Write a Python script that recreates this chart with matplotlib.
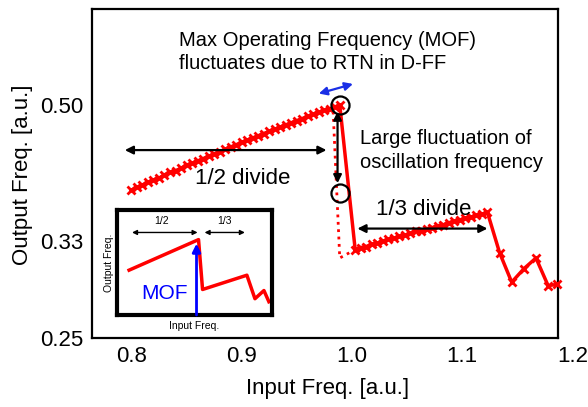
import matplotlib
matplotlib.use("Agg")
import matplotlib.pyplot as plt
import numpy as np

plt.rcParams['font.family'] = ['Liberation Sans', 'DejaVu Sans']

# 1/2 divide branch
in_half = [0.800, 0.805, 0.810, 0.815, 0.820, 0.825, 0.830, 0.835, 0.840, 0.845,
           0.850, 0.855, 0.860, 0.865, 0.870, 0.875, 0.880, 0.885, 0.890, 0.895,
           0.900, 0.905, 0.910, 0.915, 0.920, 0.925, 0.930, 0.935, 0.940, 0.945,
           0.950, 0.955, 0.960, 0.965, 0.970, 0.975, 0.980, 0.985, 0.989]
out_half = [0.388, 0.391, 0.394, 0.397, 0.400, 0.402, 0.406, 0.409, 0.411, 0.414,
            0.418, 0.420, 0.423, 0.426, 0.429, 0.432, 0.435, 0.438, 0.441, 0.444,
            0.447, 0.450, 0.453, 0.456, 0.459, 0.462, 0.465, 0.468, 0.471, 0.474,
            0.477, 0.480, 0.483, 0.486, 0.489, 0.492, 0.494, 0.497, 0.500]

# 1/3 divide branch
in_third = [1.003, 1.008, 1.013, 1.018, 1.023, 1.028, 1.033, 1.038, 1.043, 1.048,
            1.053, 1.058, 1.063, 1.068, 1.073, 1.078, 1.083, 1.088, 1.093, 1.098,
            1.103, 1.108, 1.113, 1.118, 1.123]
out_third = [0.325, 0.327, 0.328, 0.330, 0.331, 0.333, 0.335, 0.336, 0.338, 0.339,
             0.341, 0.343, 0.344, 0.346, 0.347, 0.349, 0.350, 0.352, 0.354, 0.355,
             0.357, 0.358, 0.360, 0.361, 0.363]

# beyond 1/3 divide
in_tail = [1.134, 1.145, 1.156, 1.167, 1.178, 1.186]
out_tail = [0.322, 0.295, 0.307, 0.317, 0.292, 0.293]

# dotted "other MOF" path
in_dot = [0.983, 0.989, 1.003]
out_dot = [0.490, 0.317, 0.325]

# circled points
in_circ = [0.989, 0.989]
out_circ = [0.500, 0.385]

yticks = [0.25, 1/3, 0.5]
ytick_labels = ['0.25', '0.33', '0.50']
xticks = [0.8, 0.9, 1.0, 1.1]

# inset (schematic, own units 0..100)
inset_x = [7.8, 52.6, 55.2, 83.8, 89.0, 94.8, 98.0]
inset_y = [42.7, 71.8, 24.3, 37.9, 15.5, 23.3, 12.6]

fig = plt.figure(figsize=(5.88, 4.07), dpi=100)
ax = fig.add_axes([0.156, 0.170, 0.793, 0.808])

x_all = in_half + in_third + in_tail
y_all = out_half + out_third + out_tail
ax.plot(x_all, y_all, color='red', lw=2.5, marker='x', ms=6, mew=2, clip_on=False, zorder=3)
ax.plot(in_dot, out_dot, color='red', lw=2, ls=':', zorder=2)
ax.plot(in_circ, out_circ, ls='none', marker='o', ms=13, mfc='none', mec='black', mew=1.6, zorder=4)

ax.set_yscale('log')
ax.set_xlim(0.764, 1.187)
ax.set_ylim(0.25, 0.665)
ax.set_yticks(yticks)
ax.set_yticklabels(ytick_labels)
ax.yaxis.set_minor_locator(matplotlib.ticker.NullLocator())
ax.set_xticks(xticks)
ax.set_xticklabels(['0.8', '0.9', '1.0', '1.1'])
ax.tick_params(length=0, labelsize=16, pad=6)
ax.annotate('1.2', xy=(1.2, 0), xycoords=ax.get_xaxis_transform(), xytext=(0, -6),
            textcoords='offset points', ha='center', va='top', fontsize=16, annotation_clip=False)
for s in ax.spines.values():
    s.set_linewidth(1.6)

ax.set_xlabel('Input Freq. [a.u.]', fontsize=16)
ax.set_ylabel('Output Freq. [a.u.]', fontsize=16)
ax.xaxis.set_label_coords(0.506, -0.122)
ax.yaxis.set_label_coords(-0.126, 0.495)

arrow = dict(arrowstyle='<|-|>', color='black', lw=1.6, mutation_scale=12, shrinkA=0, shrinkB=0)
ax.annotate('', xy=(0.794, 0.437), xytext=(0.977, 0.437), arrowprops=arrow)
ax.annotate('', xy=(1.005, 0.346), xytext=(1.123, 0.346), arrowprops=arrow)
ax.annotate('', xy=(0.987, 0.490), xytext=(0.987, 0.396), arrowprops=arrow)
ax.annotate('', xy=(0.970, 0.517), xytext=(1.001, 0.532),
            arrowprops=dict(arrowstyle='<|-|>', color='#1a2fe6', lw=1.6, mutation_scale=12,
                            shrinkA=0, shrinkB=0))

ax.text(0.901, 0.402, '1/2 divide', fontsize=16, ha='center', va='center')
ax.text(1.065, 0.366, '1/3 divide', fontsize=16, ha='center', va='center')
ax.text(0.843, 0.605, 'Max Operating Frequency (MOF)', fontsize=14.5, ha='left', va='center')
ax.text(0.843, 0.566, 'fluctuates due to RTN in D-FF', fontsize=14.5, ha='left', va='center')
ax.text(1.007, 0.452, 'Large fluctuation of', fontsize=14.5, ha='left', va='center')
ax.text(1.007, 0.421, 'oscillation frequency', fontsize=14.5, ha='left', va='center')

# inset
ins = fig.add_axes([117/588, 1 - 315/407, 155/588, 105/407])
ins.plot(inset_x, inset_y, color='red', lw=2.5)
ins.set_xlim(0, 100)
ins.set_ylim(0, 100)
ins.set_xticks([])
ins.set_yticks([])
for s in ins.spines.values():
    s.set_linewidth(3)
small = dict(arrowstyle='<|-|>', color='black', lw=1, mutation_scale=7, shrinkA=0, shrinkB=0)
ins.annotate('', xy=(9.7, 78.6), xytext=(52, 78.6), arrowprops=small)
ins.annotate('', xy=(56.5, 78.6), xytext=(82.5, 78.6), arrowprops=small)
ins.text(28.6, 90, '1/2', fontsize=7.5, ha='center', va='center')
ins.text(69.5, 90, '1/3', fontsize=7.5, ha='center', va='center')
ins.annotate('', xy=(51.3, 68), xytext=(51.3, 0),
             arrowprops=dict(arrowstyle='-|>', color='blue', lw=2, mutation_scale=12,
                             shrinkA=0, shrinkB=0))
ins.text(30.5, 20.4, 'MOF', fontsize=15, color='blue', ha='center', va='center')
ins.set_xlabel('Input Freq.', fontsize=7.5, labelpad=4)
ins.set_ylabel('Output Freq.', fontsize=7.5, labelpad=2)

fig.savefig('out.png', dpi=100)
